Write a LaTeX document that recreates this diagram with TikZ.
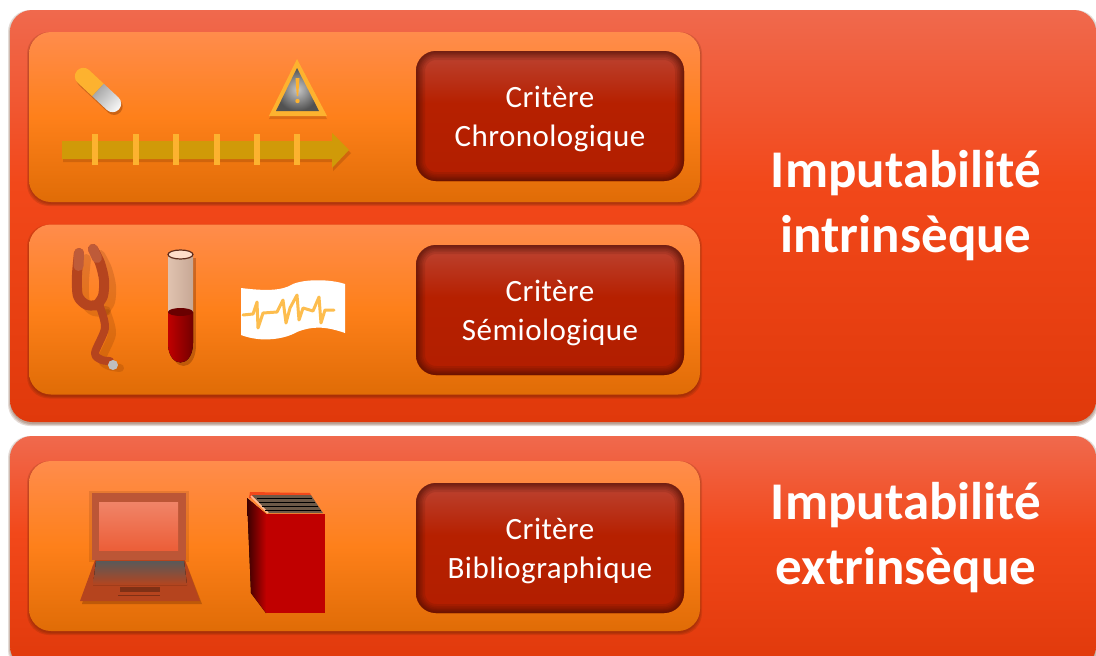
\documentclass[tikz,border=0pt]{standalone}
\usepackage{xcolor}
\usepackage{fontspec}
\setmainfont{Carlito}
\usetikzlibrary{positioning}

\definecolor{outertop}{HTML}{F0694D}
\definecolor{outermid}{HTML}{F2481A}
\definecolor{outerbot}{HTML}{E0390B}
\definecolor{innertop}{HTML}{FF8C4C}
\definecolor{innermid}{HTML}{FE801A}
\definecolor{innerbot}{HTML}{E06C06}
\definecolor{crittop}{HTML}{BC4433}
\definecolor{critmid}{HTML}{B62000}
\definecolor{critbot}{HTML}{B21E00}
\definecolor{critedge}{HTML}{4E1004}
\definecolor{shadowcol}{HTML}{5A2000}
\definecolor{gold}{HTML}{D09A08}
\definecolor{tick}{HTML}{FDB22F}
\definecolor{tubing}{HTML}{B5441E}
\definecolor{laptopdark}{HTML}{BC5636}
\definecolor{bookred}{HTML}{C00000}
\definecolor{glass}{HTML}{DDBBA6}
\definecolor{screentop}{HTML}{F08468}
\definecolor{screenbot}{HTML}{EC5E38}
\definecolor{pages}{HTML}{6D5A48}

\pgfdeclareverticalshading{outershade}{100bp}{color(0bp)=(outerbot); color(25bp)=(outerbot); color(54bp)=(outermid); color(75bp)=(outertop); color(100bp)=(outertop)}
\pgfdeclareverticalshading{innershade}{100bp}{color(0bp)=(innerbot); color(25bp)=(innerbot); color(50bp)=(innermid); color(75bp)=(innertop); color(100bp)=(innertop)}
\pgfdeclareverticalshading{critshade}{100bp}{color(0bp)=(critbot); color(25bp)=(critbot); color(55bp)=(critmid); color(75bp)=(crittop); color(100bp)=(crittop)}

\newcommand\critstrut{\rule{0pt}{28pt}}

\tikzset{
	outerbox/.style={rectangle, rounded corners=22pt, inner sep=0pt, shading=outershade},
	innerbox/.style={rectangle, rounded corners=22pt, inner sep=0pt, minimum width=671pt, minimum height=170pt, shading=innershade},
	critbox/.style={rectangle, rounded corners=20pt, inner sep=0pt, minimum width=268pt, minimum height=130pt, shading=critshade, text=white, align=center, font=\fontsize{31}{39}\addfontfeature{LetterSpace=1.5}\selectfont,
		path picture={
			\foreach \w in {18,14,11,8,6,4,2} {
				\draw[critedge, opacity=.14, line width=\w pt, rounded corners=20pt] (path picture bounding box.north west) rectangle (path picture bounding box.south east);
			}
		}},
	titlelabel/.style={text=white, align=center, inner sep=0pt, font=\fontsize{53}{65}\selectfont\bfseries},
	softshadow/.style={rectangle, rounded corners=22pt, inner sep=0pt, fill=shadowcol, opacity=.16},
	tubeline/.style={line width=10pt, line cap=round, line join=round, tubing}
}

\begin{document}
\begin{tikzpicture}[x=1pt, y=-1pt]
	\def\innerx{364.5}
	\def\critx{550}

	\useasboundingbox (0,0) rectangle (1096,656);
	\clip (0,0) rectangle (1096,656);
	\fill[white] (0,0) rectangle (1096,656);

	\foreach \g in {0,2,4} {
		\node[softshadow, minimum width={1086pt+\g pt}, minimum height={412pt+\g pt}] (shadowa\g) at (553,218) {};
		\node[softshadow, minimum width={1086pt+\g pt}, minimum height={232pt+\g pt}] (shadowb\g) at (553,554) {};
	}
	\node[outerbox, minimum width=1086pt, minimum height=412pt] (intrinsic) at (553,216) {};
	\node[outerbox, minimum width=1086pt, minimum height=232pt] (extrinsic) at (553,552) {};

	\foreach \name/\y in {chrono/117, semio/309.5, biblio/546} {
		\foreach \g in {0,2,4} {
			\node[softshadow, minimum width={671pt+\g pt}, minimum height={170pt+\g pt}] (shadow\name\g) at (\innerx,\y+2) {};
		}
		\node[innerbox] (\name) at (\innerx,\y) {};
	}

	\node[critbox] (critchrono) at (\critx,116) {\critstrut Critère\\Chronologique};
	\node[critbox] (critsemio) at (\critx,310) {\critstrut Critère\\Sémiologique};
	\node[critbox] (critbiblio) at (\critx,548) {\critstrut Critère\\Bibliographique};

	\node[titlelabel] (titleintrinsic) at (906,206) {Imputabilité\\intrinsèque};
	\node[titlelabel] (titleextrinsic) at (906,538) {Imputabilité\\extrinsèque};

	\begin{scope}[shift={(98,90)}, rotate=-43]
		\fill[shadowcol, opacity=.3, shift={(3,1)}, rounded corners=8.4pt] (-28.5,-8.5) rectangle (28.5,8.5);
		\fill[tick, rounded corners=8.4pt] (0,-8.5) -- (-28.5,-8.5) -- (-28.5,8.5) [sharp corners] -- (0,8.5) -- cycle;
		\path[top color=black!35, bottom color=white, shading angle=47, rounded corners=8.4pt] (0,-8.5) -- (28.5,-8.5) -- (28.5,8.5) [sharp corners] -- (0,8.5) -- cycle;
	\end{scope}

	\fill[shadowcol, opacity=.2] (269,119) -- (297,62) -- (327,119) -- cycle;
	\fill[tick] (269,116) -- (297,59) -- (327,116) -- cycle;
	\path[inner color=black!22, outer color=black!68] (276,111) -- (297,68) -- (319,111) -- cycle;
	\fill[tick] (295.5,78) -- (299.5,78) -- (298.2,96) -- (296.8,96) -- cycle;
	\fill[tick] (297.5,101) circle (2.2);

	\fill[shadowcol, opacity=.2] (63,144) -- (333,144) -- (333,136) -- (351,153) -- (333,171) -- (333,162) -- (63,162) -- cycle;
	\fill[gold] (62,141) -- (332,141) -- (332,133) -- (349,150) -- (332,168) -- (332,159) -- (62,159) -- cycle;
	\foreach \x in {95,136,176,217,257,297} {
		\fill[tick] (\x-3,134) rectangle (\x+3,165);
	}

	\begin{scope}[shift={(7,6)}]
		\draw[tubeline, shadowcol, opacity=.16] plot[smooth] coordinates {(79,253) (77,275) (78,296) (87,305) (99,305)};
		\draw[tubeline, shadowcol, opacity=.16] plot[smooth] coordinates {(93,249) (100,263) (104,280) (103,296) (97,305)};
		\draw[tubeline, shadowcol, opacity=.16, line width=8pt] plot[smooth] coordinates {(100,307) (105,328) (95,353) (102,360) (113,362)};
	\end{scope}
	\draw[tubeline] plot[smooth] coordinates {(79,253) (77,275) (78,296) (87,305) (99,305)};
	\draw[tubeline] plot[smooth] coordinates {(93,249) (100,263) (104,280) (103,296) (97,305)};
	\draw[tubeline, line width=8pt] plot[smooth] coordinates {(100,307) (105,328) (95,353) (102,360) (110,361)};
	\draw[tubing!88!white, line width=10pt, line cap=round] (79,253) -- (78.5,266);
	\draw[tubing!88!white, line width=10pt, line cap=round] (93,249) -- (97,258);
	\fill[black!25] (113,365) circle (5);

	\fill[shadowcol, opacity=.3] (171,258) rectangle (196,345);
	\fill[shadowcol, opacity=.3] (171,345) .. controls (171,373) and (196,373) .. (196,345) -- cycle;
	\fill[left color=glass!90!white, right color=glass!90!black] (168,254.5) rectangle (193,312);
	\fill[left color=bookred, middle color=bookred!95!white, right color=bookred!60!black] (168,312) -- (193,312) -- (193,343) .. controls (193,369) and (168,369) .. (168,343) -- cycle;
	\fill[bookred!55!black] (180.5,312) ellipse (12.5 and 4);
	\draw[fill=innertop!30!white, draw=laptopdark!50!black, line width=1.2pt] (180.5,254.5) ellipse (12.5 and 4.5);

	\path[left color=white, middle color=black!9, right color=white] (241,288) .. controls (265,291) and (282,291) .. (293,284) .. controls (305,279) and (330,279) .. (345,284) -- (345,333) .. controls (325,326) and (312,326) .. (297,332) .. controls (285,339) and (262,343) .. (241,335) -- cycle;
	\draw[tick!85!white, line width=3pt, line join=round, line cap=round] (243,315) -- (253,314) -- (257,302) -- (258,328) -- (263,313) -- (277,312) -- (283,300) -- (286,323) -- (290,308) -- (297,295) -- (299,320) -- (303,308) -- (313,311) -- (319,297) -- (321,323) -- (325,310) -- (334,310);

	\fill[shadowcol, opacity=.14] (89,491) rectangle (189,562);
	\fill[shadowcol, opacity=.3] (82,604) -- (202,604) -- (187,565) -- (93,565) -- cycle;
	\fill[laptopdark] (92,493) rectangle (186,560);
	\fill[top color=screentop, bottom color=screenbot] (99,502) rectangle (178,550);
	\fill[tubing] (95,560) -- (185,560) -- (200,601) -- (80,601) -- cycle;
	\fill[top color=black!65, bottom color=tubing] (96,561) -- (184,561) -- (187,585) -- (93,585) -- cycle;
	\fill[tubing!70!black] (120,587) rectangle (160,592);
	\fill[tubing!70!black] (118,595) rectangle (160,596);

	\fill[left color=black!70!bookred, right color=bookred] (247,498) -- (266,514) -- (266,613) -- (251,593) -- cycle;
	\fill[bookred] (266,514) rectangle (325,613);
	\fill[outermid] (249,498) -- (250,492) -- (310,493) -- (313,500) -- cycle;
	\fill[pages] (252,495) -- (311,495) -- (323,513) -- (268,513) -- cycle;
	\draw[innertop!60!white, line width=1.5pt] (251,496) -- (268,513);
	\foreach \y/\xa/\xb in {498/257/312, 502/259/315, 506/262/318, 510/265/321} {
		\draw[black, line width=.9pt] (\xa,\y) -- (\xb,\y);
	}
\end{tikzpicture}
\end{document}
